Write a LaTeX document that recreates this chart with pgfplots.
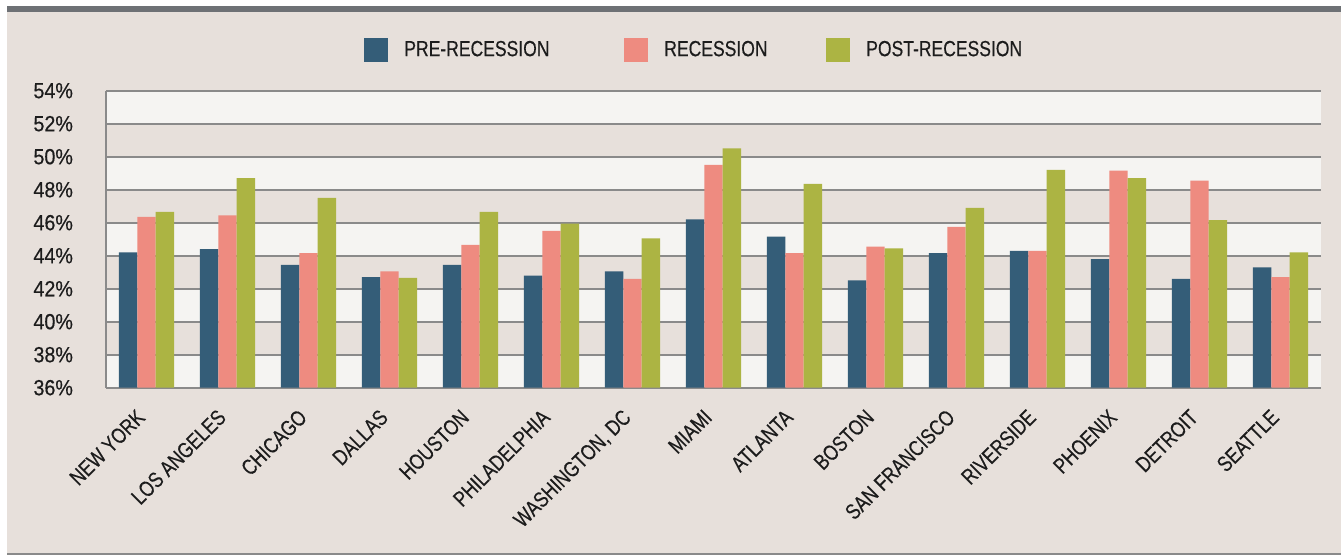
\documentclass[border=0pt]{standalone}
\usepackage{pgfplots}
\pgfplotsset{compat=1.18}
\usetikzlibrary{calc}
\usepackage{fontspec}
\setmainfont[FakeStretch=0.8, FakeBold=0.4]{Liberation Sans}
\newfontfamily\tickfont[FakeStretch=0.9, FakeBold=0.4]{Liberation Sans}

\definecolor{pre}{HTML}{345D78}
\definecolor{rec}{HTML}{EE8B80}
\definecolor{post}{HTML}{ACB443}
\definecolor{beige}{HTML}{E7E0DB}
\definecolor{light}{HTML}{F5F4F2}
\definecolor{gridgray}{HTML}{8A8A8A}
\definecolor{stripe}{HTML}{6E7175}
\definecolor{txt}{HTML}{1C1C1C}

% beige band between fractions #1 and #2 of the axis height
\newcommand{\band}[2]{%
  \fill[beige] ($(path picture bounding box.south west)!#1!(path picture bounding box.north west)$)
    rectangle ($(path picture bounding box.south east)!#2!(path picture bounding box.north east)$);}

\begin{document}
\begin{tikzpicture}
% page background (1 px = 0.5 bp)
\fill[white] (0,0) rectangle (670.5bp,278bp);
\fill[beige] (3.5bp,1.5bp) rectangle (670.5bp,272bp);
\fill[stripe] (3.5bp,272bp) rectangle (670.5bp,275.2bp);
\fill[gridgray] (3.5bp,0.4bp) rectangle (670.5bp,1.5bp);

\begin{axis}[
    at={(53bp,84.15bp)}, anchor=south west,
    scale only axis, width=607.5bp, height=148.5bp,
    axis background/.style={fill=light, path picture={
        \band{1/9}{2/9}\band{3/9}{4/9}\band{5/9}{6/9}\band{7/9}{8/9}}},
    ybar=0pt, bar width=9.2bp,
    xmin=-0.5, xmax=14.5, ymin=36, ymax=54,
    axis lines*=left,
    axis line style={-, draw=gridgray, line width=1bp},
    ymajorgrids, grid style={draw=gridgray, line width=1bp},
    major tick length=0pt,
    ytick={36,38,...,54},
    yticklabel={\pgfmathprintnumber{\tick}\%},
    /pgf/number format/assume math mode=true,
    yticklabel style={font=\tickfont\fontsize{11}{13}\selectfont, text=txt, anchor=east, xshift=-13bp},
    xtick={0,...,14},
    xticklabels={NEW YORK,LOS ANGELES,CHICAGO,DALLAS,HOUSTON,PHILADELPHIA,{WASHINGTON, DC},MIAMI,ATLANTA,BOSTON,SAN FRANCISCO,RIVERSIDE,PHOENIX,DETROIT,SEATTLE},
    xticklabel style={font=\fontsize{11}{13}\selectfont, text=txt, inner sep=0pt,
        yshift=-15.5bp, rotate=45, anchor=base east},
    legend columns=3,
    legend image code/.code={\fill[#1] (0bp,-6bp) rectangle (12bp,6bp);},
    legend style={draw=none, fill=none, at={(0.2123,1.137)}, anchor=west,
        inner sep=0pt, column sep=6bp, cells={anchor=west, inner sep=0pt},
        font=\fontsize{11}{13}\selectfont, text=txt},
]
\addplot[fill=pre, draw=none] coordinates {
(0,44.2) (1,44.4) (2,43.45) (3,42.7) (4,43.45) (5,42.8) (6,43.05) (7,46.2)
(8,45.15) (9,42.5) (10,44.15) (11,44.3) (12,43.8) (13,42.6) (14,43.3)};
\addlegendentry{\makebox[102bp][l]{PRE-RECESSION}}

\addplot[fill=rec, draw=none] coordinates {
(0,46.35) (1,46.45) (2,44.15) (3,43.05) (4,44.65) (5,45.5) (6,42.6) (7,49.5)
(8,44.15) (9,44.55) (10,45.75) (11,44.3) (12,49.15) (13,48.55) (14,42.7)};
\addlegendentry{\makebox[73bp][l]{RECESSION}}

\addplot[fill=post, draw=none] coordinates {
(0,46.65) (1,48.7) (2,47.5) (3,42.65) (4,46.65) (5,45.95) (6,45.05) (7,50.5)
(8,48.35) (9,44.45) (10,46.9) (11,49.2) (12,48.7) (13,46.15) (14,44.2)};
\addlegendentry{POST-RECESSION}
\end{axis}

\pgfresetboundingbox
\useasboundingbox (0,0) rectangle (670.5bp,278bp);
\end{tikzpicture}
\end{document}
